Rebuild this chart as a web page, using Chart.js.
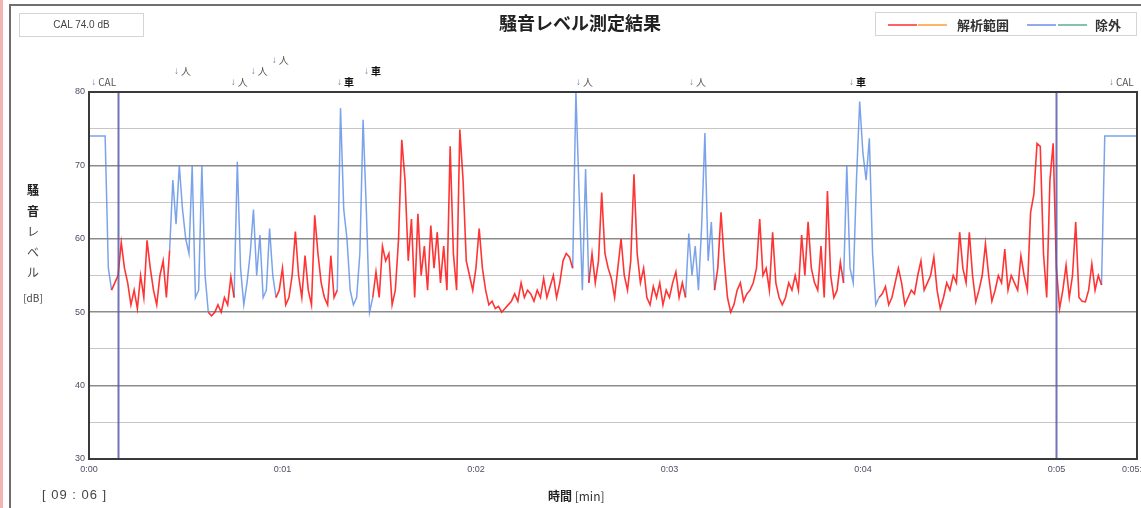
<!DOCTYPE html>
<html lang="ja">
<head>
<meta charset="utf-8">
<title>騒音レベル測定結果</title>
<script src="https://cdn.jsdelivr.net/npm/chart.js@4.4.0/dist/chart.umd.min.js"></script>
<style>
  html, body { margin: 0; padding: 0; background: #fff; overflow: hidden; }
  body { width: 1141px; height: 508px; position: relative; font-family: "Noto Sans CJK JP", "Liberation Sans", sans-serif; color: #333; }
  #wrap { position: absolute; left: 0; top: 0; width: 1141px; height: 508px; }
  .abs { position: absolute; }
  #pinkEdge { left: 0; top: 0; width: 3px; height: 508px; background: #f3b4b4; }
  #frame { left: 9px; top: 4px; width: 1200px; height: 600px; border: 2px solid #6f6f6f; box-sizing: border-box; }
  #calBox { left: 19px; top: 13px; width: 123px; height: 22px; border: 1px solid #d4d4d4; font: 10px "Liberation Sans", sans-serif; line-height: 22px; text-align: center; color: #444; }
  #title { left: 430px; top: 9px; width: 300px; text-align: center; font-size: 18px; font-weight: bold; color: #222; }
  #legend { left: 875px; top: 12px; width: 262px; height: 24px; border: 1px solid #d4d4d4; box-sizing: border-box; font-size: 13px; }
  #legend .ln { position: absolute; top: 11px; height: 2px; width: 29px; }
  #legend .tx { position: absolute; top: 2px; font-weight: bold; color: #333; }
  #ytitle { left: 22px; top: 180px; width: 22px; text-align: center; font-size: 12px; line-height: 20.5px; color: #444; }
  #ytitle .b { font-weight: bold; color: #222; }
  #stamp { left: 42px; top: 487px; font: 13px "Liberation Sans", sans-serif; color: #444; letter-spacing: 1px; }
  #xtitle { left: 548px; top: 487px; font-size: 12px; color: #333; }
  #xtitle b { color: #222; }
</style>
</head>
<body>
<div id="wrap"><canvas id="noiseChart"></canvas></div>
<div class="abs" id="pinkEdge"></div>
<div class="abs" id="frame"></div>
<div class="abs" id="calBox">CAL 74.0 dB</div>
<div class="abs" id="title">騒音レベル測定結果</div>
<div class="abs" id="legend">
  <div class="ln" style="left:12px;background:#ff6262;"></div>
  <div class="ln" style="left:42px;background:#ffb466;"></div>
  <div class="tx" style="left:81px;">解析範囲</div>
  <div class="ln" style="left:151px;background:#94a8f0;"></div>
  <div class="ln" style="left:182px;background:#84c2aa;"></div>
  <div class="tx" style="left:219px;">除外</div>
</div>
<div class="abs" id="ytitle">
  <div class="b">騒</div><div class="b">音</div><div>レ</div><div>ベ</div><div>ル</div><div style="font-size:10px;margin-top:5px;">[dB]</div>
</div>
<div class="abs" id="stamp">[ 09 : 06 ]</div>
<div class="abs" id="xtitle"><b>時間</b> [min]</div>

<script>
// sampled once per second, dB
const SAMPLE_SEC = 1;
const levels = [
  74, 74, 74, 74, 74, 74, 56, 53, 54, 55,
  59.5, 56, 54, 51, 53, 50.5, 55, 52, 59.8, 56,
  53, 51, 55, 57, 52, 58.4, 68, 62, 70, 64,
  60, 58, 70, 52, 53, 70, 55, 50, 49.5, 50,
  51, 50, 52, 51, 54.8, 52, 70.5, 56, 51, 54,
  58, 64, 55, 60.5, 52, 53, 61.4, 55, 52, 53,
  56, 51, 52, 55, 61, 55, 52, 57.7, 53, 51,
  63.2, 58, 54, 52, 51, 57.7, 52, 53, 77.8, 64,
  60, 53, 51, 52, 58, 76.2, 64, 50, 52, 55.5,
  52, 59, 57, 58, 51, 53, 60, 73.5, 68, 57,
  62.7, 52, 63.4, 55, 59, 53, 61.8, 56, 60.9, 54,
  59, 53, 72.6, 58, 53, 74.9, 68, 57, 55, 53,
  56, 61.4, 56, 53, 51, 51.5, 50.5, 50.8, 50, 50.5,
  51, 51.5, 52.5, 51.5, 54, 52, 53, 52.5, 51.5, 53,
  52, 54.6, 52, 53.5, 55, 52, 54, 57, 58, 57.5,
  56, 80, 66, 53, 69.5, 54, 58, 54, 57, 66.3,
  58, 56, 54.6, 52, 56, 60, 55, 53, 57, 68.8,
  58, 54, 56, 52, 51, 53.5, 52, 54, 51, 53,
  52, 54, 55.5, 52, 54, 52, 60.7, 55, 59, 53,
  61.8, 74.4, 57, 62.3, 53, 56, 63.6, 57, 52, 50,
  51, 53, 54, 51.5, 52.5, 53, 54, 56, 62.7, 55,
  56, 53, 60.9, 54, 52, 51, 52, 54, 53, 55,
  53, 60.5, 55, 62.3, 56, 54, 53, 59, 52, 66.5,
  55, 52, 53, 56.8, 54, 70, 56, 54, 68, 78.7,
  71.7, 68, 73.7, 58, 51, 52, 52.5, 53.5, 51, 52,
  54, 56, 54, 51, 52, 53, 52.5, 55, 57, 53,
  54, 55, 57.5, 53, 50.5, 52, 54, 53, 55, 54,
  60.9, 56, 54, 60.9, 55, 51.4, 53, 55, 59.3, 55,
  51.5, 53, 55, 54, 58.6, 53, 55, 54, 53, 57.7,
  55, 53, 63.6, 66, 73, 72.6, 58, 52, 68, 73,
  56, 50.5, 53, 56.4, 52, 55, 62.3, 52, 51.5, 51.4,
  53, 56.6, 53, 55, 53.7, 74, 74, 74, 74, 74,
  74, 74, 74, 74, 74, 74
];

// [start, end] in seconds, drawn as 除外
const excludedRanges = [[0, 7], [25, 37], [45, 58], [77, 88], [150, 155], [185, 194], [234, 245], [314, 325]];

const xTickValues = [0, 60, 120, 180, 240, 300, 325];
const xTickLabels = ["0:00", "0:01", "0:02", "0:03", "0:04", "0:05", "0:05:25"];
const yMin = 30, yMax = 80, yStep = 5;

const cursorTimes = [9, 300];

const markerTimes = [1, 26.7, 44.3, 50.5, 57, 77.2, 85.6, 151.3, 186.4, 236, 316.6];
const markerLabels = ["CAL", "人", "人", "人", "人", "車", "車", "人", "人", "車", "CAL"];
const markerRows = [0, 1, 0, 1, 2, 0, 1, 0, 0, 0, 0];

function insideExcluded(t) {
  return excludedRanges.some(([a, b]) => t > a && t < b);
}
function onExcluded(t) {
  return excludedRanges.some(([a, b]) => t >= a && t <= b);
}

const analysisPoints = levels.map((v, i) => {
  const t = i * SAMPLE_SEC;
  return { x: t, y: insideExcluded(t) ? null : v };
});
const excludedPoints = levels.map((v, i) => {
  const t = i * SAMPLE_SEC;
  return { x: t, y: onExcluded(t) ? v : null };
});

const overlayPlugin = {
  id: "overlay",
  afterDatasetsDraw(chart) {
    const { ctx, chartArea: a, scales } = chart;
    const x = scales.x;
    ctx.save();
    // cursors
    ctx.strokeStyle = "rgba(90,90,170,0.85)";
    ctx.lineWidth = 2;
    cursorTimes.forEach((t) => {
      const px = Math.round(x.getPixelForValue(t)) + 0.5;
      ctx.beginPath();
      ctx.moveTo(px, a.top);
      ctx.lineTo(px, a.bottom);
      ctx.stroke();
    });
    // plot frame
    ctx.strokeStyle = "#3a3a3a";
    ctx.lineWidth = 2;
    ctx.strokeRect(a.left, a.top, a.right - a.left, a.bottom - a.top);
    // event markers above plot
    ctx.textBaseline = "middle";
    markerTimes.forEach((t, i) => {
      const px = x.getPixelForValue(t);
      const py = a.top - 10 - markerRows[i] * 11;
      ctx.font = "10px 'Liberation Sans', sans-serif";
      ctx.fillStyle = "#7a7aa8";
      ctx.fillText("↓", px - 1, py);
      ctx.font = (markerLabels[i] === "車" ? "bold " : "") + "10px 'Noto Sans CJK JP', sans-serif";
      ctx.fillStyle = markerLabels[i] === "車" ? "#111" : "#555";
      ctx.fillText(markerLabels[i], px + 6, py);
    });
    ctx.restore();
  },
};

function initChart() {
  const ctx = document.getElementById("noiseChart");
  new Chart(ctx, {
    type: "line",
    data: {
      datasets: [
        {
          label: "解析範囲",
          data: analysisPoints,
          borderColor: "rgba(255,25,25,0.88)",
          borderWidth: 1.6,
          pointRadius: 0,
          tension: 0,
        },
        {
          label: "除外",
          data: excludedPoints,
          borderColor: "rgba(90,140,230,0.8)",
          borderWidth: 1.5,
          pointRadius: 0,
          tension: 0,
        },
      ],
    },
    options: {
      responsive: true,
      maintainAspectRatio: false,
      animation: false,
      events: [],
      layout: { padding: { top: 92, right: 4, bottom: 29, left: 0 } },
      plugins: {
        legend: { display: false },
        title: { display: false },
        tooltip: { enabled: false },
      },
      scales: {
        x: {
          type: "linear",
          min: 0,
          max: 325,
          grid: { display: false, drawTicks: false },
          border: { display: false },
          afterBuildTicks: (scale) => {
            scale.ticks = xTickValues.map((v) => ({ value: v }));
          },
          afterFit: (scale) => {
            scale.height = 20;
            scale.paddingLeft = 0;
            scale.paddingRight = 0;
          },
          ticks: {
            padding: 5,
            maxRotation: 0,
            autoSkip: false,
            color: "#4d4d66",
            font: { family: "'Liberation Sans', sans-serif", size: 9 },
            callback: (value, index) => xTickLabels[index],
          },
        },
        y: {
          min: yMin,
          max: yMax,
          border: { display: false },
          grid: {
            drawTicks: false,
            color: (c) => (c.tick.value % 10 === 0 ? "#8c8c8c" : "#c6c6c6"),
            lineWidth: (c) => (c.tick.value % 10 === 0 ? 1.6 : 1),
          },
          afterFit: (scale) => {
            scale.width = 89;
          },
          ticks: {
            stepSize: yStep,
            padding: 4,
            color: "#4d4d66",
            font: { family: "'Liberation Sans', sans-serif", size: 9 },
            callback: (value) => (value % 10 === 0 ? value : ""),
          },
        },
      },
    },
    plugins: [overlayPlugin],
  });
}

document.addEventListener("DOMContentLoaded", initChart);
</script>
</body>
</html>
